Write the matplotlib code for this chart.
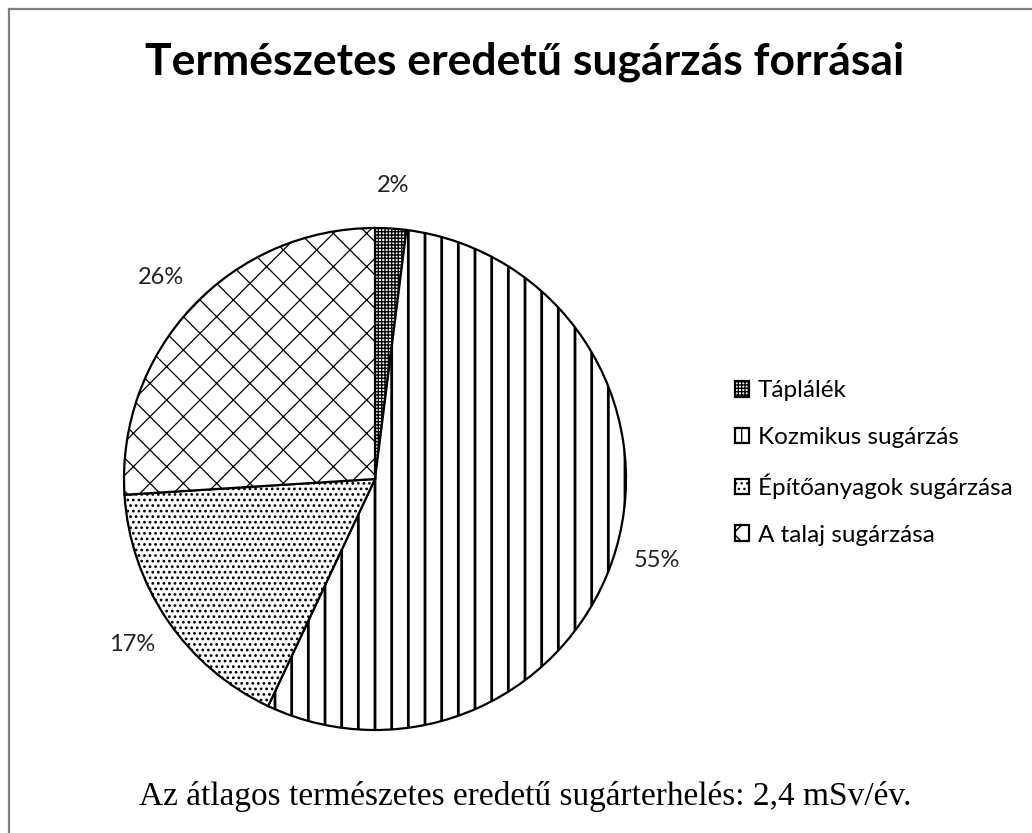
import matplotlib
matplotlib.use('Agg')

import matplotlib.pyplot as plt
from matplotlib.lines import Line2D

# adatok
categories = ['Táplálék', 'Kozmikus sugárzás', 'Építőanyagok sugárzása', 'A talaj sugárzása']
values = [2, 55, 17, 26]
hatches = ['+++++', '|', '...', 'x']
hatch_lw = [1.0, 2.0, 1.2, 0.9]

title = 'Természetes eredetű sugárzás forrásai'
footer = 'Az átlagos természetes eredetű sugárterhelés: 2,4 mSv/év.'

plt.rcParams['font.family'] = ['Lato', 'DejaVu Sans']
plt.rcParams['hatch.linewidth'] = 1.0

W, H = 1032, 833
fig = plt.figure(figsize=(W / 100, H / 100), dpi=100)

# kör helye pixelben
cx, cy, r = 375, 479, 251
ax = fig.add_axes([(cx - r) / W, (H - cy - r) / H, 2 * r / W, 2 * r / H])

wedges, texts, autotexts = ax.pie(
    values, startangle=90, counterclock=False,
    colors=['white'] * len(values),
    autopct='%1.0f%%', pctdistance=1.17,
    wedgeprops=dict(edgecolor='black', linewidth=1.6),
    textprops=dict(fontsize=17, color='#222222'))
for w, h, lw in zip(wedges, hatches, hatch_lw):
    w.set_hatch(h)
    if hasattr(w, 'set_hatch_linewidth'):
        w.set_hatch_linewidth(lw)
ax.set_xlim(-1, 1)
ax.set_ylim(-1, 1)
ax.set_aspect('equal')

fig.text(525 / W, 1 - 62 / H, title, ha='center', va='center',
         fontsize=32, fontweight='bold')
fig.text(525 / W, 1 - 797 / H, footer, ha='center', va='center',
         fontsize=24, family='Liberation Serif')

fig.legend(wedges, categories, loc='center left',
           bbox_to_anchor=(713 / W, 1 - 463 / H), frameon=False,
           fontsize=17.5, handlelength=0.6, handleheight=0.6,
           handletextpad=0.35, labelspacing=1.05)

# keret (bal és felső vonal)
fig.add_artist(Line2D([9 / W, 9 / W], [0, 1 - 9 / H], color='#808080', lw=1.6))
fig.add_artist(Line2D([9 / W, 1], [1 - 9 / H, 1 - 9 / H], color='#808080', lw=1.6))

plt.savefig('out.png', dpi=100)
plt.close()
